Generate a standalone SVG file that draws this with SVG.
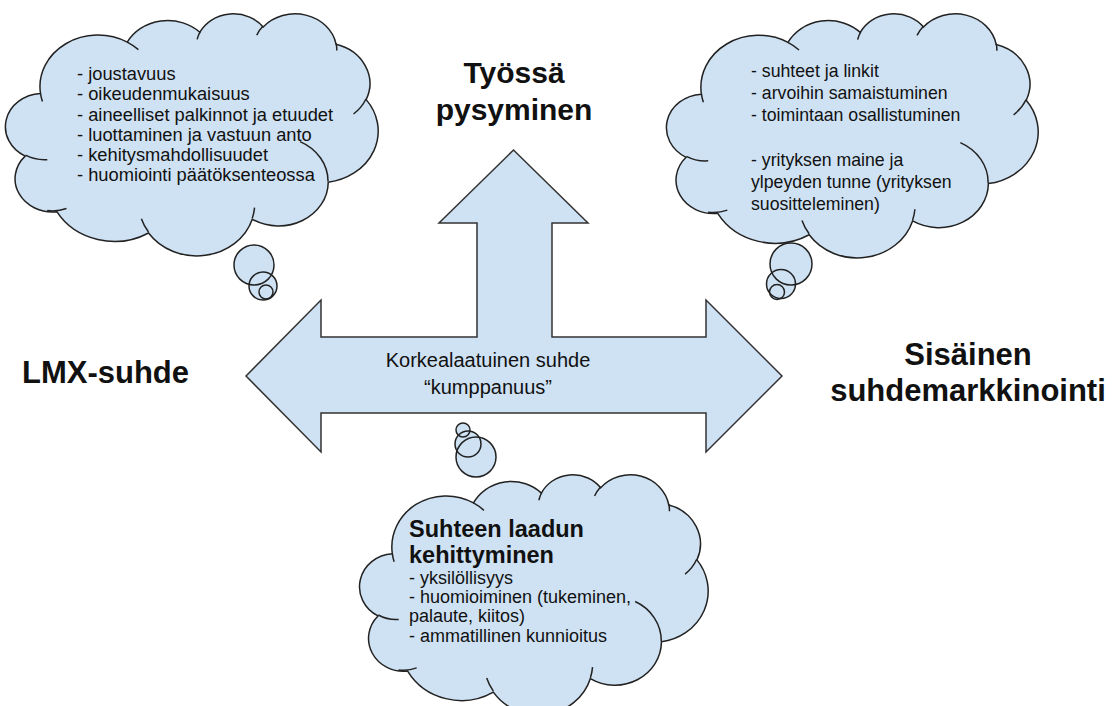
<svg xmlns="http://www.w3.org/2000/svg" xmlns:xlink="http://www.w3.org/1999/xlink" width="1116" height="706" viewBox="0 0 1116 706">
<style>
.cloud{fill:#cfe2f3;stroke:#222;stroke-width:1.5}
.arcs{fill:none;stroke:#222;stroke-width:1.5}
.bub{fill:#cfe2f3}
.bubs{fill:none;stroke:#222;stroke-width:1.5}
.t{font-family:"Liberation Sans",Arial,sans-serif;fill:#111}
.tb{font-family:"Liberation Sans",Arial,sans-serif;font-weight:bold;fill:#111}
.arrow{fill:#cfe2f3;stroke:#333;stroke-width:1.5;stroke-linejoin:miter}
</style>
<defs>
<path id="cloudShape" vector-effect="non-scaling-stroke" d="M3900 14370A6753 9190 0 0 1 14004 5202A5333 7267 0 0 1 22457 3434A4365 5945 0 0 1 29835 2483A4857 6595 0 0 1 38320 5578A5333 7273 0 0 1 41821 15462A6775 9220 0 0 1 37406 30204A5785 7867 0 0 1 28557 36814A6752 9215 0 0 1 16482 39266A7720 10543 0 0 1 5806 35473A4360 5918 0 0 1 2115 25550A4345 5945 0 0 1 3900 14370Z"/>
<path id="cloudArcs" vector-effect="non-scaling-stroke" d="M4693 26177A4345 5945 0 0 1 2159 25380M6928 34899A4360 5918 0 0 1 4680 35259M16478 39090A6752 9215 0 0 1 15647 36719M28827 34751A6752 9215 0 0 1 28561 36659M34129 22954A5785 7867 0 0 1 37381 30090M41798 15354A5333 7273 0 0 1 40350 18029M38324 5426A4857 6595 0 0 1 38400 6690M29078 3952A4857 6595 0 0 1 29820 2339M22141 4720A4365 5945 0 0 1 22500 3331M14000 5192A6753 9190 0 0 1 15301 6542M4127 15789A6753 9190 0 0 1 3900 14370"/>
</defs>
<rect width="1116" height="706" fill="#fff"/>

<g id="connectors">
<path class="arrow" d="M246 376L321 300L321 337L477 337L477 223L439 223L513.5 150L588 223L552 223L552 337L706 337L706 300L782 376L706 452L706 413L321 413L321 452Z"/>
<text class="t" font-size="20" text-anchor="middle"><tspan x="488" y="367">Korkealaatuinen suhde</tspan><tspan x="488" y="394">“kumppanuus”</tspan></text>
</g>

<g id="cloud-lmx">
<circle class="bub" cx="254" cy="265" r="20"/><circle class="bub" cx="263" cy="286" r="14"/><circle class="bub" cx="266" cy="292" r="7"/>
<circle class="bubs" cx="254" cy="265" r="20"/><circle class="bubs" cx="263" cy="286" r="14"/><circle class="bubs" cx="266" cy="292" r="7"/>
<g transform="translate(7 13) scale(0.0085880 0.0056019)">
<use xlink:href="#cloudShape" class="cloud"/>
<use xlink:href="#cloudArcs" class="arcs"/>
</g>
<text class="t" font-size="18.3"><tspan x="77" y="80">- joustavuus</tspan><tspan x="77" y="100">- oikeudenmukaisuus</tspan><tspan x="77" y="121">- aineelliset palkinnot ja etuudet</tspan><tspan x="77" y="141">- luottaminen ja vastuun anto</tspan><tspan x="77" y="161">- kehitysmahdollisuudet</tspan><tspan x="77" y="181">- huomiointi päätöksenteossa</tspan></text>
</g>

<g id="cloud-internal">
<circle class="bub" cx="791" cy="264" r="21"/><circle class="bub" cx="781" cy="284" r="14.5"/><circle class="bub" cx="777" cy="292" r="7.5"/>
<circle class="bubs" cx="791" cy="264" r="21"/><circle class="bubs" cx="781" cy="284" r="14.5"/><circle class="bubs" cx="777" cy="292" r="7.5"/>
<g transform="translate(668 13) scale(0.0085648 0.0056481)">
<use xlink:href="#cloudShape" class="cloud"/>
<use xlink:href="#cloudArcs" class="arcs"/>
</g>
<text class="t" font-size="17.7"><tspan x="751" y="77">- suhteet ja linkit</tspan><tspan x="751" y="99">- arvoihin samaistuminen</tspan><tspan x="751" y="121">- toimintaan osallistuminen</tspan><tspan x="751" y="166">- yrityksen maine ja</tspan><tspan x="751" y="188">ylpeyden tunne (yrityksen</tspan><tspan x="751" y="210">suositteleminen)</tspan></text>
</g>

<g id="cloud-quality">
<circle class="bub" cx="476" cy="457" r="20"/><circle class="bub" cx="468" cy="444" r="13"/><circle class="bub" cx="463" cy="430" r="7"/>
<circle class="bubs" cx="476" cy="457" r="20"/><circle class="bubs" cx="468" cy="444" r="13"/><circle class="bubs" cx="463" cy="430" r="7"/>
<g transform="translate(361 474) scale(0.0080324 0.0055556)">
<use xlink:href="#cloudShape" class="cloud"/>
<use xlink:href="#cloudArcs" class="arcs"/>
</g>
<text class="tb" font-size="23.5"><tspan x="409" y="537">Suhteen laadun</tspan><tspan x="409" y="563">kehittyminen</tspan></text>
<text class="t" font-size="18"><tspan x="409" y="584">- yksilöllisyys</tspan><tspan x="409" y="603">- huomioiminen (tukeminen,</tspan><tspan x="409" y="622">palaute, kiitos)</tspan><tspan x="409" y="642">- ammatillinen kunnioitus</tspan></text>
</g>

<g id="label-retention">
<text class="tb" font-size="30" text-anchor="middle"><tspan x="514" y="83">Työssä</tspan><tspan x="514" y="120">pysyminen</tspan></text>
</g>
<g id="label-lmx">
<text class="tb" font-size="31" x="22" y="383">LMX-suhde</text>
</g>
<g id="label-internal">
<text class="tb" font-size="31" text-anchor="middle"><tspan x="968" y="365">Sisäinen</tspan><tspan x="968" y="401">suhdemarkkinointi</tspan></text>
</g>
</svg>
